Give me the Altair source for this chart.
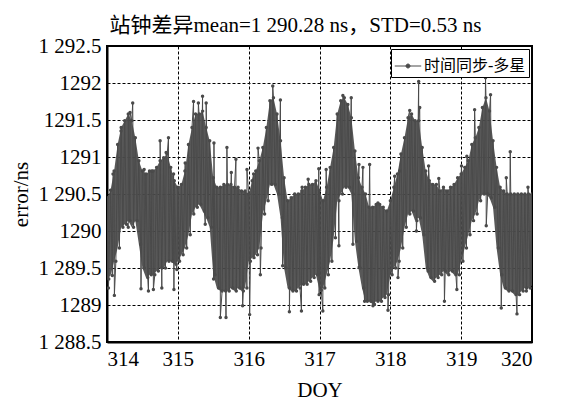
import altair as alt
import pandas as pd

# ---------------- data ----------------
title_text = "站钟差异mean=1 290.28 ns，STD=0.53 ns"
series_name = "时间同步-多星"
x_title = "DOY"
y_title = "error/ns"

x_ticks = [314, 315, 316, 317, 318, 319, 320]
y_ticks = [1288.5, 1289, 1289.5, 1290, 1290.5, 1291, 1291.5, 1292, 1292.5]
y_tick_labels = ["1 288.5", "1289", "1 289.5", "1290", "1 290.5", "1291", "1291.5", "1292", "1 292.5"]

# dense core of the series: upper / lower edge every 0.05 day from DOY 314.00
start_doy = 314.0
step_doy = 0.05
upper = [
    1290.45, 1290.55, 1290.81, 1291.17, 1291.40, 1291.49, 1291.58, 1291.49, 1291.26, 1290.95,
    1290.81, 1290.77, 1290.81, 1290.81, 1290.86, 1290.95, 1290.99, 1291.04, 1290.86, 1290.68,
    1290.59, 1290.63, 1290.81, 1291.17, 1291.40, 1291.58, 1291.58, 1291.62, 1291.40, 1291.22,
    1290.72, 1290.59, 1290.59, 1290.63, 1290.63, 1290.63, 1290.59, 1290.59, 1290.54, 1290.54,
    1290.50, 1290.68, 1290.81, 1290.95, 1291.13, 1291.40, 1291.76, 1291.80, 1291.58, 1291.22,
    1290.72, 1290.41, 1290.45, 1290.50, 1290.50, 1290.54, 1290.59, 1290.63, 1290.63, 1290.68,
    1290.55, 1290.41, 1290.59, 1290.86, 1291.13, 1291.58, 1291.76, 1291.80, 1291.71, 1291.53,
    1291.08, 1290.72, 1290.59, 1290.50, 1290.32, 1290.32, 1290.36, 1290.36, 1290.32, 1290.27,
    1290.41, 1290.59, 1290.77, 1291.04, 1291.26, 1291.53, 1291.58, 1291.49, 1291.49, 1291.13,
    1290.81, 1290.68, 1290.63, 1290.63, 1290.54, 1290.59, 1290.54, 1290.59, 1290.63, 1290.72,
    1290.77, 1290.86, 1290.95, 1291.17, 1291.26, 1291.40, 1291.67, 1291.80, 1291.62, 1291.22,
    1290.86, 1290.59, 1290.54, 1290.50, 1290.50, 1290.50, 1290.50, 1290.50, 1290.50, 1290.50,
    1290.50,
]
lower = [
    1289.35, 1289.40, 1289.59, 1289.77, 1290.05, 1290.09, 1290.14, 1290.05, 1290.14, 1289.82,
    1289.50, 1289.37, 1289.41, 1289.41, 1289.46, 1289.50, 1289.50, 1289.59, 1289.59, 1289.55,
    1289.59, 1289.68, 1289.77, 1289.95, 1290.23, 1290.32, 1290.36, 1290.27, 1290.18, 1290.05,
    1289.41, 1289.23, 1289.19, 1289.19, 1289.19, 1289.23, 1289.19, 1289.23, 1289.19, 1289.23,
    1289.59, 1289.64, 1289.68, 1289.77, 1290.23, 1290.41, 1290.63, 1290.63, 1290.50, 1290.18,
    1289.50, 1289.23, 1289.19, 1289.19, 1289.23, 1289.28, 1289.28, 1289.32, 1289.37, 1289.41,
    1289.20, 1289.23, 1289.41, 1289.59, 1289.91, 1290.41, 1290.50, 1290.59, 1290.59, 1290.50,
    1289.86, 1289.50, 1289.23, 1289.05, 1289.05, 1289.01, 1289.05, 1289.05, 1289.10, 1289.14,
    1289.41, 1289.50, 1289.59, 1289.77, 1290.05, 1290.23, 1290.27, 1290.14, 1290.18, 1289.95,
    1289.50, 1289.37, 1289.32, 1289.37, 1289.41, 1289.46, 1289.41, 1289.46, 1289.41, 1289.41,
    1289.59, 1289.77, 1289.95, 1290.14, 1290.23, 1290.41, 1290.50, 1290.50, 1290.45, 1290.32,
    1289.77, 1289.41, 1289.23, 1289.19, 1289.19, 1289.14, 1289.14, 1289.19, 1289.23, 1289.23,
    1289.28,
]

# isolated spikes (outliers) standing out of the core
spike_doy = [
    314.363, 314.325, 314.198, 314.085, 314.750, 314.868, 314.835, 314.524, 314.632, 315.222,
    315.349, 315.400, 315.290, 315.104, 314.940, 314.104, 314.020, 314.480, 314.585, 314.655,
    314.774, 314.945, 314.986, 315.505, 315.387, 314.300,
    315.510, 315.693, 315.820, 315.755, 315.976, 316.132, 316.070, 316.340, 316.448, 316.990,
    316.840, 316.755, 315.600, 315.680, 315.915, 316.014, 316.165, 316.480, 316.575, 316.745,
    316.995,
    317.330, 317.448, 317.094, 317.557, 317.708, 317.613, 317.825, 318.061, 318.274, 318.400,
    318.415, 318.132, 317.047, 317.274, 317.472, 317.560, 317.637, 317.755, 317.967, 318.108,
    318.368, 318.533,
    319.344, 319.190, 319.415, 318.540, 319.080, 319.693, 319.637, 319.943, 319.005, 318.684,
    318.764, 318.939, 319.566, 319.788, 319.920, 319.354,
]
spike_val = [
    1291.73, 1291.60, 1291.35, 1290.77, 1291.22, 1291.26, 1291.06, 1290.83, 1290.81, 1291.75,
    1291.82, 1291.73, 1291.73, 1290.92, 1290.77, 1289.13, 1289.23, 1289.22, 1289.19, 1289.21,
    1289.23, 1289.21, 1289.48, 1289.35, 1290.09, 1290.05,
    1291.19, 1291.13, 1290.97, 1290.79, 1290.83, 1291.12, 1290.77, 1291.96, 1291.77, 1290.84,
    1290.70, 1290.59, 1288.83, 1288.83, 1288.99, 1288.87, 1289.41, 1289.53, 1288.91, 1288.92,
    1289.14,
    1291.83, 1291.80, 1290.83, 1290.90, 1290.90, 1290.86, 1290.38, 1290.74, 1291.63, 1292.02,
    1291.67, 1290.81, 1288.92, 1289.80, 1289.82, 1289.51, 1289.05, 1288.99, 1288.93, 1289.37,
    1290.00, 1289.46,
    1292.07, 1291.64, 1291.84, 1290.88, 1291.01, 1291.07, 1290.72, 1290.59, 1290.88, 1290.71,
    1289.05, 1289.21, 1288.96, 1288.88, 1289.19, 1290.07,
]

# ---------------- tables ----------------
band_doy = [start_doy + step_doy * i for i in range(len(upper))]
band = pd.DataFrame({"doy": band_doy, "hi": upper, "lo": lower})

rows = []
for t, hi, lo in zip(band_doy, upper, lower):
    rows.append((t, hi))
    rows.append((min(t + step_doy / 2, 320.0), lo))
for d, v in zip(spike_doy, spike_val):
    rows.append((d, v))
df = pd.DataFrame(rows, columns=["doy", "value"]).sort_values("doy").reset_index(drop=True)
df["series"] = series_name

# ---------------- chart ----------------
font = "Liberation Serif, Noto Sans CJK SC, serif"
gray = "#4a4a4a"

label_expr = ""
for v, s in zip(y_ticks, y_tick_labels):
    label_expr += f"datum.value == {v} ? '{s}' : "
label_expr += "''"

legend_path = "M-1,0L1,0M-0.15,0A0.15,0.15,0,1,1,0.15,0A0.15,0.15,0,1,1,-0.15,0Z"

x_axis = alt.Axis(values=x_ticks, format="d", title=x_title, labelOverlap=False,
                  titleX=212.5, titleY=48, titleBaseline="middle", titleAlign="center")
y_axis = alt.Axis(values=y_ticks, labelExpr=label_expr, title=y_title,
                  labelOverlap=False, labelBound=False, labelFlush=False,
                  titleX=-86, titleY=148, titleBaseline="middle", titleAlign="center",
                  titleAngle=270)
x_scale = alt.Scale(domain=[314, 320], nice=False, zero=False)
y_scale = alt.Scale(domain=[1288.5, 1292.5], nice=False, zero=False)

core = alt.Chart(band).mark_area(color=gray, opacity=0.92, clip=True).encode(
    x=alt.X("doy:Q", scale=x_scale, axis=x_axis),
    y=alt.Y("hi:Q", scale=y_scale, axis=y_axis),
    y2="lo:Q",
)

series = alt.Chart(df).mark_line(
    strokeWidth=1,
    clip=True,
    point=alt.OverlayMarkDef(filled=True, size=12, clip=True),
).encode(
    x=alt.X("doy:Q", scale=x_scale, axis=x_axis),
    y=alt.Y("value:Q", scale=y_scale, axis=y_axis),
    color=alt.Color(
        "series:N",
        scale=alt.Scale(range=[gray]),
        legend=alt.Legend(
            title=None, orient="top-right", offset=3,
            strokeColor="black", fillColor="white", padding=3,
            symbolType=legend_path, symbolSize=700, symbolStrokeWidth=1,
            symbolFillColor=gray, symbolStrokeColor=gray,
            labelFont=font, labelFontSize=16, labelColor="black", labelOffset=2,
        ),
    ),
)

chart = alt.layer(core, series).properties(
    width=425,
    height=296,
    title=alt.TitleParams(text=title_text, font=font, fontSize=21, fontWeight="normal",
                          color="black", anchor="middle", baseline="bottom", frame="group",
                          offset=0, dx=-24, dy=22),
    autosize=alt.AutoSizeParams(type="none"),
    padding={"left": 107, "top": 46, "right": 29, "bottom": 60},
).configure_view(
    stroke="black", strokeWidth=2,
).configure_axis(
    domainColor="black", domainWidth=2,
    grid=True, gridColor="black", gridDash=[3, 2], gridWidth=1, gridOpacity=1,
    ticks=False, labelPadding=6, labelOverlap=False,
    labelFont=font, labelFontSize=21, labelColor="black",
    titleFont=font, titleFontSize=21, titleColor="black", titleFontWeight="normal",
)

chart.save("out.html", embed_options={"renderer": "svg", "actions": False})
